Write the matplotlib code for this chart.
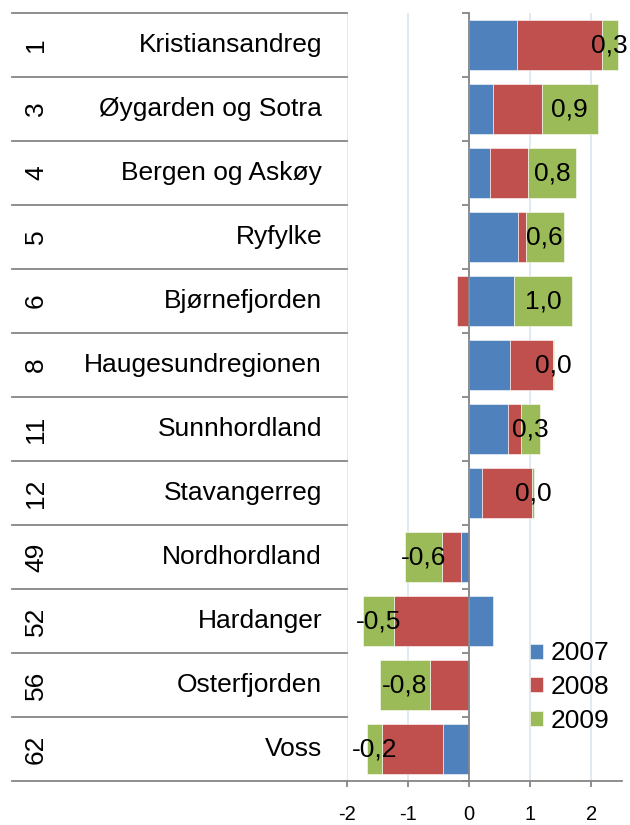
import numpy as np
import matplotlib.pyplot as plt
from matplotlib.transforms import blended_transform_factory

plt.rcParams['font.family'] = ['Liberation Sans', 'DejaVu Sans']
plt.rcParams['axes.unicode_minus'] = False

# ranks and regions, top to bottom
ranks = ['1', '3', '4', '5', '6', '8', '11', '12', '49', '52', '56', '62']
regions = ['Kristiansandreg', 'Øygarden og Sotra', 'Bergen og Askøy', 'Ryfylke',
           'Bjørnefjorden', 'Haugesundregionen', 'Sunnhordland', 'Stavangerreg',
           'Nordhordland', 'Hardanger', 'Osterfjorden', 'Voss']
years = ['2007', '2008', '2009']
v2007 = [0.78, 0.39, 0.34, 0.80, 0.73, 0.68, 0.64, 0.21, -0.13, 0.39, 0.00, -0.42]
v2008 = [1.39, 0.80, 0.63, 0.13, -0.20, 0.69, 0.21, 0.83, -0.31, -1.23, -0.64, -1.01]
v2009 = [0.27, 0.92, 0.78, 0.62, 0.96, 0.03, 0.31, 0.02, -0.61, -0.50, -0.81, -0.24]
colors = ['#4f81bd', '#c0504d', '#9bbb59']

W, H = 630, 825
fig = plt.figure(figsize=(W / 100, H / 100), dpi=100)
# plot area in pixels: x 346.7..621.7, y 13..781
ax = fig.add_axes([346.7 / W, 1 - 781 / H, 275 / W, 768 / H])

y = np.arange(len(regions))
pos_left = np.zeros(len(regions))
neg_left = np.zeros(len(regions))
containers = []
for vals, year, col in zip([v2007, v2008, v2009], years, colors):
    vals = np.array(vals)
    # positives stack to the right, negatives to the left
    left = np.where(vals >= 0, pos_left, neg_left)
    c = ax.barh(y, vals, left=left, height=0.77, color=col,
                edgecolor='white', linewidth=0.4, label=year, zorder=2)
    containers.append(c)
    pos_left = pos_left + np.clip(vals, 0, None)
    neg_left = neg_left + np.clip(vals, None, 0)

# data labels: 2009 value, centred on the green segment
lab = [f"{v:.1f}".replace('.', ',') for v in v2009]
ax.bar_label(containers[2], labels=lab, label_type='center', fontsize=19, zorder=3)

ax.set_xlim(-2, 2.5)
ax.set_ylim(len(regions) - 0.5, -0.5)
ax.set_xticks([-2, -1, 0, 1, 2])
ax.grid(axis='x', color='#dce6f2', linewidth=1.3, zorder=0)
ax.set_axisbelow(True)

grey = '#868686'
for s in ['top', 'right']:
    ax.spines[s].set_visible(False)
ax.spines['left'].set_position(('data', 0))
ax.spines['left'].set_color(grey)
ax.spines['left'].set_linewidth(1.3)
ax.spines['left'].set_zorder(4)
ax.spines['bottom'].set_color(grey)
ax.spines['bottom'].set_linewidth(1.3)

ax.set_yticks(np.arange(-0.5, len(regions), 1))
ax.set_yticklabels([])
ax.tick_params(axis='y', direction='out', length=5, width=1.3, color=grey)
ax.tick_params(axis='x', direction='out', length=4.5, width=1.3, color=grey,
               labelsize=14.5, pad=13)

# left table with rank and region name
trans = blended_transform_factory(fig.transFigure, ax.transData)
for b in np.arange(-0.5, len(regions), 1):
    ax.plot([12 / W, 346.7 / W], [b, b], transform=trans, color=grey,
            linewidth=1.3, clip_on=False)
for i, (r, name) in enumerate(zip(ranks, regions)):
    ax.text(322 / W, i, name, transform=trans, ha='right', va='center', fontsize=19)
    ax.text(36 / W, i, r, transform=trans, ha='center', va='center',
            rotation=90, fontsize=19)

ax.legend(loc='center left', bbox_to_anchor=(530 / W, 1 - 687 / H),
          bbox_transform=fig.transFigure, frameon=False, fontsize=19,
          handlelength=0.5, handleheight=0.5, handletextpad=0.27,
          labelspacing=0.36, borderpad=0, borderaxespad=0)

fig.savefig('out.png', dpi=100)
